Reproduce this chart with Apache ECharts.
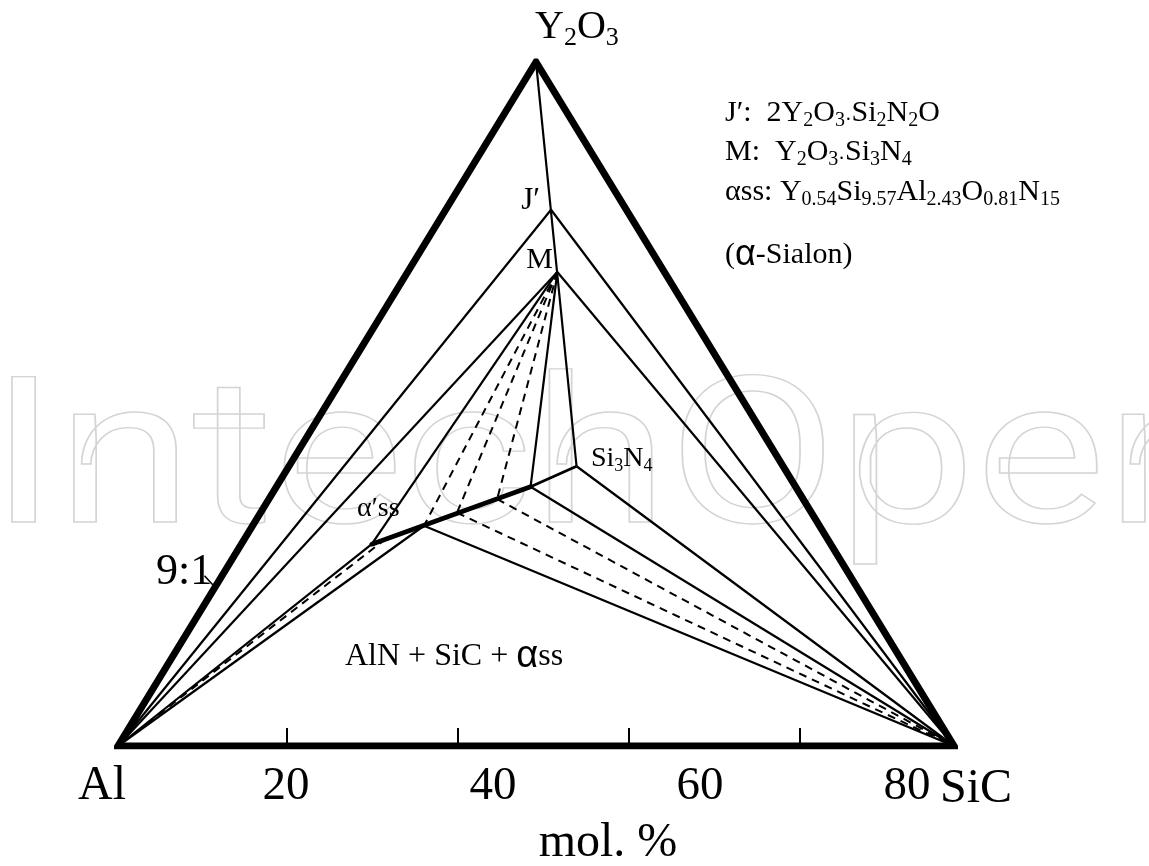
<!DOCTYPE html>
<html><head><meta charset="utf-8">
<script src="https://cdn.jsdelivr.net/npm/echarts@6/dist/echarts.min.js"></script>
<style>html,body{margin:0;padding:0;background:#fff}#c{width:1149px;height:866px}</style>
</head><body><div id="c"></div>
<script>
// Phase compositions in mol.% : [Y2O3, SiC]; the Al share is 100 - Y2O3 - SiC
const phaseNames = ['Al', 'SiC', 'Y2O3', 'J', 'M', 'Si3N4', 'P1', 'X2', 'X1', 'Q', 'D', 'A'];
const phaseY2O3  = [0,    0,     100,    78.4, 69.3, 40.9,   37.9, 36.1, 34.1, 32.2, 30.3, 29.5];
const phaseSiC   = [0,    100,   0,      12.6, 17.9, 34.4,   30.4, 27.3, 23.5, 20.5, 16.9, 15.6];

// Triangle outline and tie lines (pairs of phase names)
const outline = ['Al', 'Y2O3', 'SiC', 'Al', 'Y2O3'];
const solidTies = [['Y2O3', 'Si3N4'], ['J', 'Al'], ['J', 'SiC'], ['M', 'Al'], ['M', 'SiC'],
  ['M', 'A'], ['M', 'P1'], ['Si3N4', 'SiC'], ['P1', 'SiC'], ['Q', 'SiC'], ['A', 'Al'], ['Q', 'Al']];
const mediumTies = [['P1', 'Si3N4']];
const thickTies = [['A', 'P1']];
const dashedTies = [['M', 'Q'], ['M', 'X1'], ['M', 'X2'], ['X1', 'SiC'], ['X2', 'SiC'], ['D', 'Al']];

// small pointer beside the "9:1" note
const pointerY2O3 = [24.9, 23.2];
const pointerSiC = [-2.1, 0];

// bottom scale
const tickValues = [20, 40, 60, 80];
const tickLabels = ['20', '40', '60', '80'];

const SERIF = '"Liberation Serif", "Times New Roman", serif';
const SANS = '"Liberation Sans", Arial, sans-serif';

function toXY(y, s) { return [s + y / 2, y]; }
function xy(name) { const i = phaseNames.indexOf(name); return toXY(phaseY2O3[i], phaseSiC[i]); }
function seg(pairs) { return pairs.map(p => ({ coords: p.map(xy) })); }

function richStyles(F) {
  return {
    n: { fontFamily: SERIF, fontSize: F, lineHeight: Math.round(F * 1.2), fill: '#000', color: '#000' },
    s: { fontFamily: SERIF, fontSize: Math.round(F * 0.65), lineHeight: Math.round(F * 0.65), verticalAlign: 'bottom', fill: '#000', color: '#000' },
    a: { fontFamily: SANS, fontSize: Math.round(F * 1.2), lineHeight: Math.round(F * 1.2), fill: '#000', color: '#000' }
  };
}
function T(text, x, base, F, align) {
  return {
    type: 'text', x: x, y: base - 0.94 * F, silent: true, z: 10,
    style: { text: text, rich: richStyles(F), align: align, textAlign: align,
      verticalAlign: 'top', textVerticalAlign: 'top', fill: '#000' }
  };
}

const chart = echarts.init(document.getElementById('c'), null, { renderer: 'canvas' });

const lineBase = { type: 'lines', coordinateSystem: 'cartesian2d', xAxisIndex: 0, yAxisIndex: 0, silent: true, animation: false };

chart.setOption({
  backgroundColor: '#fff',
  animation: false,
  grid: [
    { left: 118, top: 62, width: 836, height: 684 },
    { left: 115.3, top: 62, width: 855.5, height: 684 },
    { left: 79, top: 62, width: 1035, height: 684 }
  ],
  xAxis: [
    { type: 'value', gridIndex: 0, min: 0, max: 100, show: false },
    { type: 'value', gridIndex: 1, min: 0, max: 100,
      axisLine: { show: false }, splitLine: { show: false }, axisLabel: { show: false },
      axisTick: { show: true, inside: true, length: 18, lineStyle: { color: '#000', width: 2 }, customValues: tickValues } },
    { type: 'value', gridIndex: 2, min: 0, max: 100,
      axisLine: { show: false }, splitLine: { show: false }, axisTick: { show: false },
      axisLabel: { show: true, customValues: tickValues, margin: 17,
        formatter: v => tickLabels[tickValues.indexOf(v)] || '',
        fontFamily: SERIF, fontSize: 47, lineHeight: 47, color: '#000' } }
  ],
  yAxis: [
    { type: 'value', gridIndex: 0, min: 0, max: 100, show: false },
    { type: 'value', gridIndex: 1, min: 0, max: 100, show: false },
    { type: 'value', gridIndex: 2, min: 0, max: 100, show: false }
  ],
  graphic: [
    { type: 'text', x: -10, y: 368, scaleX: 1.2, z: -5, silent: true,
      style: { text: 'IntechOpen', fontFamily: 'Roboto, "Liberation Sans", sans-serif', fontSize: 205, lineHeight: 205,
        fill: 'none', stroke: '#d4d4d4', lineWidth: 1.4, verticalAlign: 'top', textVerticalAlign: 'top' } },
    T('{n|Y}{s|2}{n|O}{s|3}', 535, 41, 40, 'left'),
    T('{n|J′:  2Y}{s|2}{n|O}{s|3}{s|·}{n|Si}{s|2}{n|N}{s|2}{n|O}', 725, 123, 30, 'left'),
    T('{n|M:  Y}{s|2}{n|O}{s|3}{s|·}{n|Si}{s|3}{n|N}{s|4}', 725, 162, 30, 'left'),
    T('{n|αss: Y}{s|0.54}{n|Si}{s|9.57}{n|Al}{s|2.43}{n|O}{s|0.81}{n|N}{s|15}', 725, 202, 30, 'left'),
    T('{n|(}{a|α}{n|-Sialon)}', 725, 265, 30, 'left'),
    T('{n|J′}', 540, 211, 31, 'right'),
    T('{n|M}', 553, 270, 30, 'right'),
    T('{n|Si}{s|3}{n|N}{s|4}', 591, 468, 28, 'left'),
    T('{n|α′ss}', 357, 518, 28, 'left'),
    T('{n|9:1}', 156, 587, 44, 'left'),
    T('{n|AlN + SiC + }{a|α}{n|ss}', 345, 668, 32, 'left'),
    T('{n|Al}', 126, 803, 48, 'right'),
    T('{n|SiC}', 940, 806, 48, 'left'),
    T('{n|mol. %}', 608, 860, 48, 'center')
  ],
  series: [
    Object.assign({}, lineBase, { polyline: true, z: 6, data: [{ coords: outline.map(xy) }],
      lineStyle: { color: '#000', width: 7, opacity: 1, join: 'miter', miterLimit: 10 } }),
    Object.assign({}, lineBase, { z: 4, data: seg(solidTies), lineStyle: { color: '#000', width: 2.2, opacity: 1 } }),
    Object.assign({}, lineBase, { z: 4, data: seg(mediumTies), lineStyle: { color: '#000', width: 2.8, opacity: 1 } }),
    Object.assign({}, lineBase, { z: 5, data: seg(thickTies), lineStyle: { color: '#000', width: 4.6, opacity: 1, cap: 'round' } }),
    Object.assign({}, lineBase, { z: 4, data: seg(dashedTies), lineStyle: { color: '#000', width: 2, opacity: 1, type: [8, 6] } }),
    Object.assign({}, lineBase, { z: 4, data: [{ coords: pointerY2O3.map((y, i) => toXY(y, pointerSiC[i])) }],
      lineStyle: { color: '#000', width: 1.6, opacity: 1 } })
  ]
});
</script></body></html>
